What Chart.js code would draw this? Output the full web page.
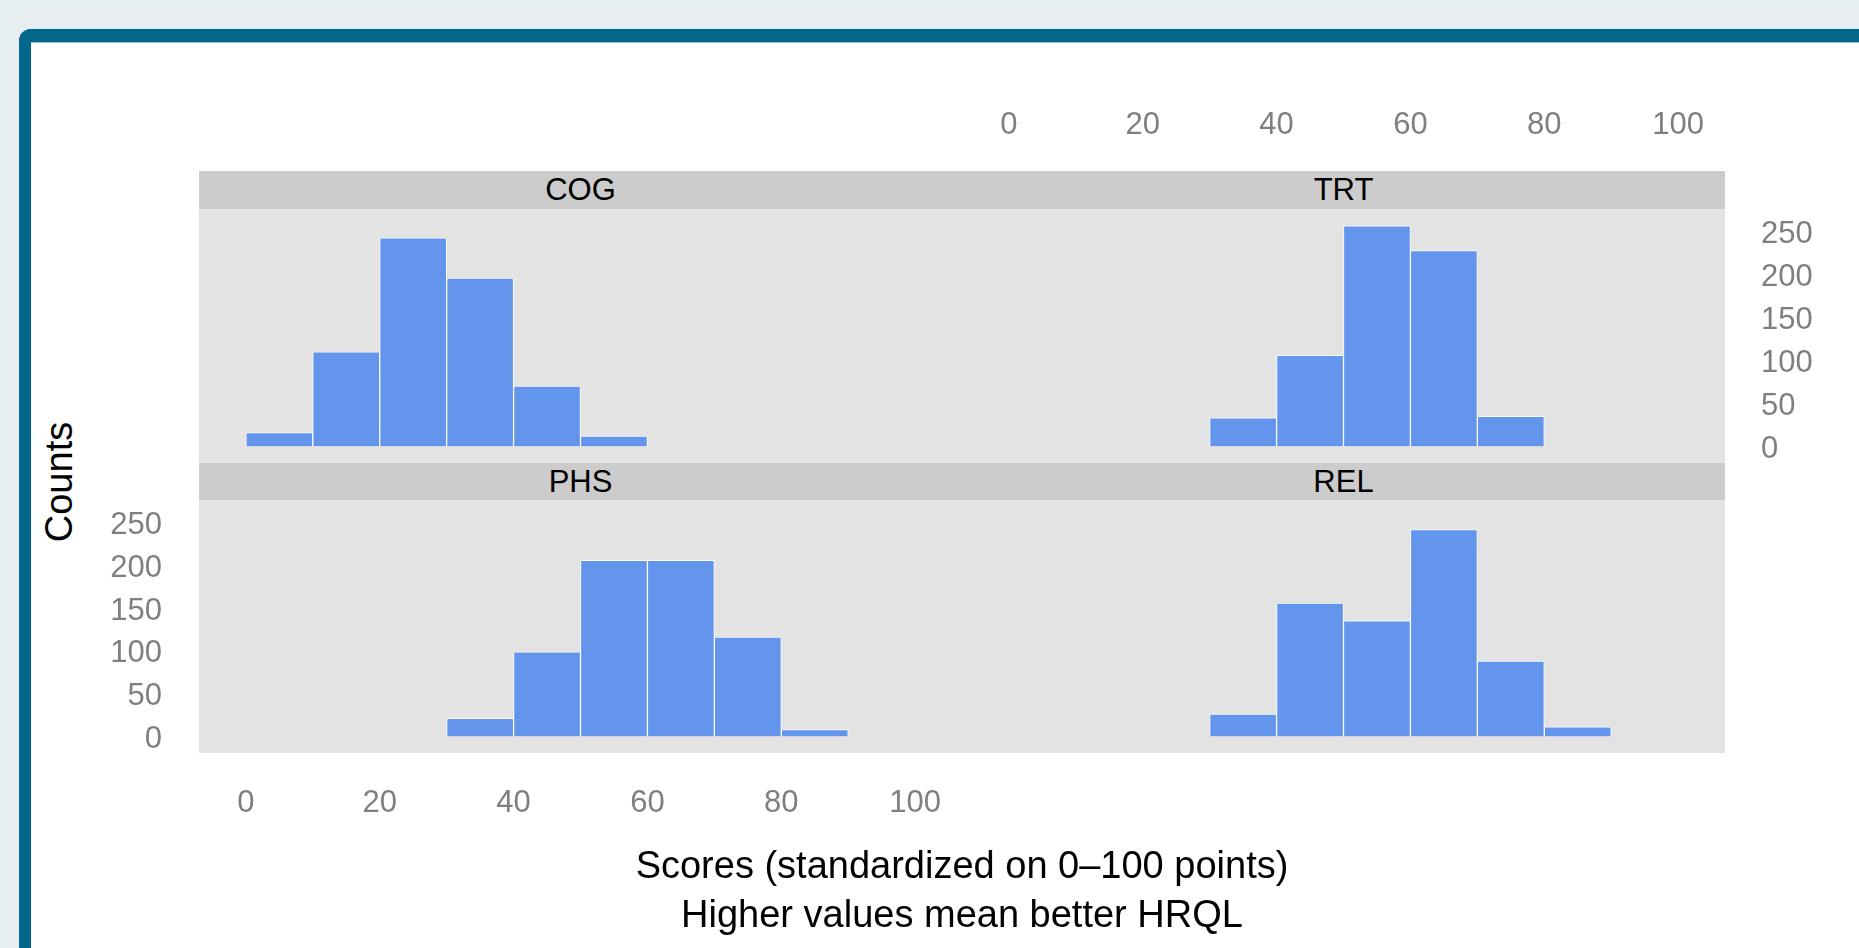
<!DOCTYPE html>
<html><head><meta charset="utf-8">
<script src="https://cdn.jsdelivr.net/npm/chart.js@4.4.1/dist/chart.umd.min.js"></script>
<style>
html,body{margin:0;padding:0;}
body{width:1859px;height:948px;overflow:hidden;background:#e7eef1;position:relative;font-family:"Liberation Sans",Arial,Helvetica,sans-serif;}
#card{position:absolute;left:19px;top:29px;width:1900px;height:1000px;background:#fff;border-left:12px solid #03678b;border-top:13px solid #03678b;border-top-left-radius:12px;box-sizing:border-box;}
#cardline{position:absolute;left:31px;top:42px;width:1828px;height:1px;background:#8fbfd1;}
.strip{position:absolute;background:#cccccc;color:#000;font-size:31px;text-align:center;z-index:2;}
canvas{position:absolute;}
.title{position:absolute;color:#000;font-size:38px;text-align:center;white-space:nowrap;}
</style></head>
<body>
<div id="card"></div>
<div id="cardline"></div>

<div class="strip" id="s0" style="left:199px;top:171px;width:763px;height:38px;line-height:38px;"></div>
<div class="strip" id="s1" style="left:962px;top:171px;width:763px;height:38px;line-height:38px;"></div>
<div class="strip" id="s2" style="left:199px;top:463px;width:763px;height:37px;line-height:37px;"></div>
<div class="strip" id="s3" style="left:962px;top:463px;width:763px;height:37px;line-height:37px;"></div>

<canvas id="cCOG" width="763" height="254" style="left:199px;top:209px;"></canvas>
<canvas id="cTRT" width="897" height="373" style="left:962px;top:90px;"></canvas>
<canvas id="cPHS" width="862" height="350" style="left:100px;top:500px;"></canvas>
<canvas id="cREL" width="763" height="253" style="left:962px;top:500px;"></canvas>

<div class="title" id="ytitle" style="left:-91px;top:457px;width:300px;height:50px;line-height:50px;transform:rotate(-90deg);"></div>
<div class="title" id="xtitle" style="left:462px;top:841px;width:1000px;line-height:49px;"></div>

<script>
// ---- data ----
const panels = ['COG', 'TRT', 'PHS', 'REL'];
const binWidth = 10;
const cogBins = [0, 10, 20, 30, 40, 50];
const cogCounts = [16, 110, 243, 196, 70, 12];
const trtBins = [30, 40, 50, 60, 70];
const trtCounts = [33, 106, 257, 228, 35];
const phsBins = [30, 40, 50, 60, 70, 80];
const phsCounts = [21, 99, 206, 206, 116, 8];
const relBins = [30, 40, 50, 60, 70, 80];
const relCounts = [26, 156, 135, 242, 88, 11];
const xTickValues = [0, 20, 40, 60, 80, 100];
const xTickLabels = ['0', '20', '40', '60', '80', '100'];
const yTickValues = [0, 50, 100, 150, 200, 250];
const yTickLabels = ['0', '50', '100', '150', '200', '250'];
const yTitle = 'Counts';
const xTitleLines = ['Scores (standardized on 0\u2013100 points)', 'Higher values mean better HRQL'];

// ---- text ----
panels.forEach((p, i) => { document.getElementById('s' + i).textContent = p; });
document.getElementById('ytitle').textContent = yTitle;
const xt = document.getElementById('xtitle');
xTitleLines.forEach((l, i) => { const d = document.createElement('div'); d.textContent = l; xt.appendChild(d); });

// ---- charts ----
Chart.defaults.font.family = '"Liberation Sans", Arial, Helvetica, sans-serif';
const X_MIN = -7, X_MAX = 107, Y_MIN = -19.5, Y_MAX = 276.5;

const panelBg = {
  id: 'panelBg',
  beforeDraw(chart) {
    const a = chart.chartArea, c = chart.ctx;
    c.save(); c.fillStyle = '#e3e3e3';
    c.fillRect(a.left, a.top, a.right - a.left, a.bottom - a.top);
    c.restore();
  }
};

function noPad(s) { s.paddingLeft = 0; s.paddingRight = 0; s.paddingTop = 0; s.paddingBottom = 0; }

function makeChart(id, bins, counts, o) {
  return new Chart(document.getElementById(id), {
    type: 'bar',
    data: {
      datasets: [{
        data: bins.map((b, i) => ({ x: b + binWidth / 2, y: counts[i] })),
        backgroundColor: '#6495ED',
        borderColor: 'rgba(255,255,255,0.85)',
        borderWidth: 1,
        borderSkipped: 'start',
        barPercentage: 1,
        categoryPercentage: 1
      }]
    },
    options: {
      responsive: false, animation: false, devicePixelRatio: 1,
      layout: { padding: 0, autoPadding: false },
      plugins: { legend: { display: false }, tooltip: { enabled: false } },
      scales: {
        x: {
          type: 'linear', min: X_MIN, max: X_MAX, offset: false,
          position: o.xPos || 'bottom', display: !!o.xPos,
          grid: { display: false, drawTicks: false, offset: false },
          border: { display: false },
          afterBuildTicks: s => { s.ticks = xTickValues.map(v => ({ value: v })); },
          afterFit: s => { if (o.xSize != null) s.height = o.xSize; noPad(s); },
          ticks: {
            color: '#7f7f7f', font: { size: 31 }, padding: o.xPad || 0,
            autoSkip: false, maxRotation: 0, minRotation: 0,
            callback: (v, i) => xTickLabels[i]
          }
        },
        y: {
          type: 'linear', min: Y_MIN, max: Y_MAX,
          position: o.yPos || 'left', display: !!o.yPos,
          grid: { display: false, drawTicks: false },
          border: { display: false },
          afterBuildTicks: s => { s.ticks = yTickValues.map(v => ({ value: v })); },
          afterFit: s => { if (o.ySize != null) s.width = o.ySize; noPad(s); },
          ticks: {
            color: '#7f7f7f', font: { size: 31 }, padding: o.yPad || 0,
            labelOffset: 3, autoSkip: false,
            callback: (v, i) => yTickLabels[i]
          }
        }
      }
    },
    plugins: [panelBg]
  });
}

makeChart('cCOG', cogBins, cogCounts, {});
makeChart('cTRT', trtBins, trtCounts, { xPos: 'top', xSize: 119, xPad: 65, yPos: 'right', ySize: 134, yPad: 36 });
makeChart('cPHS', phsBins, phsCounts, { xPos: 'bottom', xSize: 97, xPad: 32, yPos: 'left', ySize: 99, yPad: 37 });
makeChart('cREL', relBins, relCounts, {});
</script>
</body></html>
